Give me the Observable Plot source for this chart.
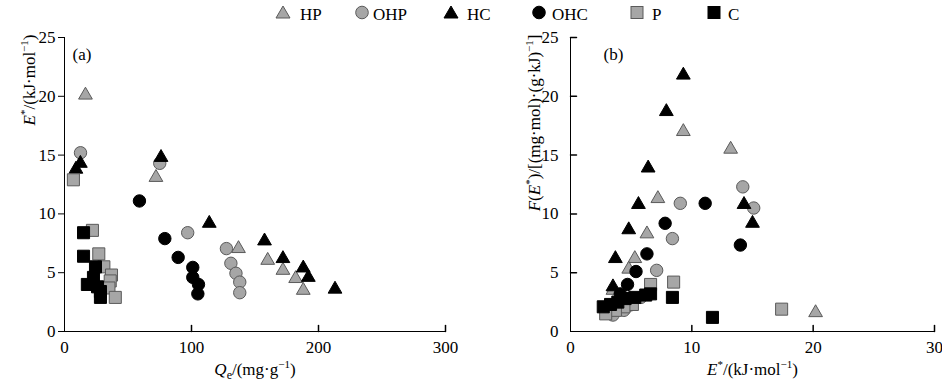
<!DOCTYPE html>
<html><head><meta charset="utf-8">
<script src="https://cdn.jsdelivr.net/npm/d3@7"></script>
<script src="https://cdn.jsdelivr.net/npm/@observablehq/plot@0.6"></script>
<style>
body{margin:0;background:#fff;font-family:"Liberation Serif","Times New Roman",serif;}
#wrap{position:relative;width:942px;height:385px;overflow:hidden;background:#fff;}
#legend{position:absolute;left:0;top:0;width:942px;height:28px;}
.item{position:absolute;top:5px;font-size:17px;line-height:20px;color:#000;white-space:nowrap;}
.sym{position:absolute;top:4px;}
#pa{position:absolute;left:0;top:28px;}
#pb{position:absolute;left:471px;top:28px;}
</style></head><body>
<div id="wrap"><div id="legend"></div><div id="pa"></div><div id="pb"></div></div>
<script>
// ---------- data ----------
const legendLabels = ["HP", "OHP", "HC", "OHC", "P", "C"];
const xTicksA = [0, 100, 200, 300];
const xTicksB = [0, 10, 20, 30];
const yTicks = [0, 5, 10, 15, 20, 25];

// Panel (a): [Qe (mg/g), E* (kJ/mol)]
const aHP  = [[16.5,20.1],[72,13.1],[137,7.05],[160,6.05],[172,5.2],[182,4.5],[188,3.5]];
const aOHP = [[12.6,15.2],[75,14.3],[97,8.4],[127.5,7.05],[131,5.8],[135,4.95],[138,4.2],[138,3.3]];
const aHC  = [[9,13.8],[12.5,14.3],[76,14.8],[114,9.2],[157.5,7.7],[172,6.2],[188,5.4],[192,4.6],[213,3.6]];
const aOHC = [[59,11.1],[79,7.9],[89.5,6.3],[101,5.45],[101,4.6],[105.5,4.0],[105,3.2]];
const aP   = [[7,12.9],[22,8.6],[27,6.6],[31,5.5],[37,4.8],[36,4.3],[35,3.7],[40,2.9]];
const aC   = [[15,8.4],[15,6.4],[24.4,5.5],[22.8,4.6],[18,4.0],[26,3.8],[28.3,3.4],[28.3,2.9]];

// Panel (b): [E* (kJ/mol), F(E*)]
const bHP  = [[20.2,1.6],[13.2,15.5],[9.3,17.0],[7.2,11.3],[6.3,8.3],[5.3,6.2],[4.8,5.3],[3.5,3.5]];
const bOHP = [[14.2,12.3],[15.1,10.5],[9.05,10.9],[8.4,7.9],[7.1,5.2],[5.8,2.9],[4.9,2.25],[4.4,1.8],[3.5,1.4]];
const bHC  = [[9.3,21.8],[7.9,18.7],[6.4,13.9],[5.6,10.8],[14.3,10.8],[15.0,9.2],[4.8,8.65],[3.7,6.2],[3.5,3.8]];
const bOHC = [[11.1,10.9],[7.8,9.2],[14.0,7.35],[6.3,6.6],[5.4,5.1],[4.7,4.0],[4.1,3.2]];
const bP   = [[8.5,4.2],[6.6,4.0],[17.4,1.9],[5.1,2.3],[4.4,2.1],[3.7,1.8],[2.9,1.5]];
const bC   = [[8.4,2.9],[11.7,1.2],[6.6,3.2],[6.2,3.1],[5.3,2.9],[4.5,2.8],[3.9,2.5],[3.3,2.3],[2.7,2.1]];

const seriesA = [aHP, aOHP, aHC, aOHC, aP, aC];
const seriesB = [bHP, bOHP, bHC, bOHC, bP, bC];

// ---------- styles ----------
const GRAY = "#a6a6a6", GRAYSTROKE = "#5a5a5a";
const styles = [
  {symbol: "triangle", fill: GRAY, stroke: GRAYSTROKE, r: 5.1},
  {symbol: "circle", fill: GRAY, stroke: GRAYSTROKE, r: 6.2},
  {symbol: "triangle", fill: "#000", stroke: "#000", r: 5.1},
  {symbol: "circle", fill: "#000", stroke: "#000", r: 6.2},
  {symbol: "square", fill: GRAY, stroke: GRAYSTROKE, r: 6.8},
  {symbol: "square", fill: "#000", stroke: "#000", r: 6.8}
];
const FONT = "'Liberation Serif','Times New Roman',serif";
const upTick = {draw(ctx, l) { ctx.moveTo(0, 0); ctx.lineTo(0, -l); }};

function dotMarks(series) {
  return series.map((data, i) => Plot.dot(data, {
    x: d => d[0], y: d => d[1], symbol: styles[i].symbol, r: styles[i].r,
    fill: styles[i].fill, stroke: styles[i].stroke, strokeWidth: 1
  }));
}

const H = 357, MT = 9, MB = 54;

const plotA = Plot.plot({
  width: 471, height: H, marginLeft: 64, marginRight: 26, marginTop: MT, marginBottom: MB,
  style: {fontFamily: FONT, fontSize: "17px", color: "#000", background: "transparent", overflow: "visible"},
  x: {domain: [0, 300]},
  y: {domain: [0, 25]},
  marks: [
    Plot.axisX(xTicksA, {tickSize: 0, tickPadding: 9, label: null}),
    Plot.axisY(yTicks, {tickSize: 6, tickPadding: 3, label: null}),
    Plot.ruleY([0], {x1: 0, x2: 300, stroke: "#000"}),
    Plot.ruleX([0], {y1: 0, y2: 25, stroke: "#000"}),
    Plot.vector(xTicksA.slice(1), {x: d => d, y: () => 0, length: 6, anchor: "start", shape: upTick, stroke: "#000"}),
    ...dotMarks(seriesA),
    Plot.text(["(a)"], {frameAnchor: "top-left", dx: 8, dy: 10, textAnchor: "start", fontSize: 17}),
    Plot.text(["E*/(kJ·mol-1)"], {frameAnchor: "top-left", dx: -42, dy: -3, rotate: -90, textAnchor: "end", fontSize: 17}),
    Plot.text(["Qe/(mg·g-1)"], {frameAnchor: "bottom", dy: 43, fontSize: 17})
  ]
});

const plotB = Plot.plot({
  width: 471, height: H, marginLeft: 99, marginRight: 8, marginTop: MT, marginBottom: MB,
  style: {fontFamily: FONT, fontSize: "17px", color: "#000", background: "transparent", overflow: "visible"},
  x: {domain: [0, 30]},
  y: {domain: [0, 25]},
  marks: [
    Plot.axisX(xTicksB, {tickSize: 0, tickPadding: 9, label: null}),
    Plot.axisY(yTicks, {tickSize: 0, tickPadding: 12, label: null}),
    Plot.ruleY([0], {x1: 0, x2: 30, stroke: "#000"}),
    Plot.ruleX([0], {y1: 0, y2: 25, stroke: "#000"}),
    Plot.vector(xTicksB.slice(1), {x: d => d, y: () => 0, length: 6, anchor: "start", shape: upTick, stroke: "#000"}),
    Plot.vector(yTicks.slice(1), {x: () => 0, y: d => d, length: 6, anchor: "start", rotate: 90, shape: upTick, stroke: "#000"}),
    ...dotMarks(seriesB),
    Plot.text(["(b)"], {frameAnchor: "top-left", dx: 33, dy: 10, textAnchor: "start", fontSize: 17}),
    Plot.text(["F(E*)/[(mg·mol)·(g·kJ)-1]"], {frameAnchor: "top-left", dx: -43, dy: -3, rotate: -90, textAnchor: "end", fontSize: 17}),
    Plot.text(["E*/(kJ·mol-1)"], {frameAnchor: "bottom", dy: 43, fontSize: 17})
  ]
});

// rich formatting (italic, super/subscripts)
const sup = (t) => `<tspan font-size="11" dy="-7">${t}</tspan>`;
const rich = {
  "E*/(kJ·mol-1)": `<tspan font-style="italic">E</tspan>${sup("*")}<tspan dy="7">/(kJ·mol</tspan>${sup("−1")}<tspan dy="7">)</tspan>`,
  "Qe/(mg·g-1)": `<tspan font-style="italic">Q</tspan><tspan font-size="12" dy="4">e</tspan><tspan dy="-4">/(mg·g</tspan>${sup("−1")}<tspan dy="7">)</tspan>`,
  "F(E*)/[(mg·mol)·(g·kJ)-1]": `<tspan font-style="italic">F</tspan><tspan>(</tspan><tspan font-style="italic">E</tspan>${sup("*")}<tspan dy="7">)/[(mg·mol)·(g·kJ)</tspan>${sup("−1")}<tspan dy="7">]</tspan>`
};
for (const p of [plotA, plotB]) {
  p.querySelectorAll("text").forEach(t => {
    const k = t.textContent;
    if (rich[k]) t.innerHTML = rich[k];
  });
}
document.getElementById("pa").appendChild(plotA);
document.getElementById("pb").appendChild(plotB);

// legend
const legendPos = [[283, 300], [362, 373], [451, 467], [539, 552], [637, 652], [714, 728]];
const leg = document.getElementById("legend");
legendLabels.forEach((name, i) => {
  const s = styles[i];
  const cx = legendPos[i][0];
  let shape;
  if (s.symbol === "triangle") shape = `<polygon points="1,14 8,2 15,14" fill="${s.fill}" stroke="${s.stroke}"/>`;
  else if (s.symbol === "circle") shape = `<circle cx="8" cy="8.5" r="6.3" fill="${s.fill}" stroke="${s.stroke}"/>`;
  else shape = `<rect x="2" y="2.5" width="12" height="12" fill="${s.fill}" stroke="${s.stroke}"/>`;
  const sv = document.createElement("div");
  sv.className = "sym";
  sv.style.left = (cx - 8) + "px";
  sv.innerHTML = `<svg width="16" height="17">${shape}</svg>`;
  leg.appendChild(sv);
  const tx = document.createElement("div");
  tx.className = "item";
  tx.style.left = legendPos[i][1] + "px";
  tx.textContent = name;
  leg.appendChild(tx);
});
</script>
</body></html>
